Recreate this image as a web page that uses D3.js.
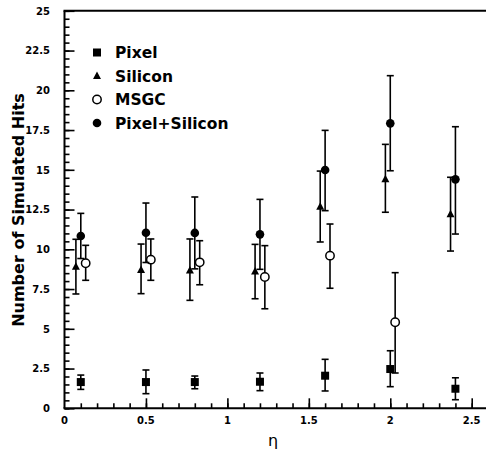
<!DOCTYPE html>
<html>
<head>
<meta charset="utf-8">
<script src="https://cdn.jsdelivr.net/npm/d3@7"></script>
<style>
  html, body { margin: 0; padding: 0; background: #fff; }
  svg { display: block; }
</style>
</head>
<body>
<svg id="chart" width="486" height="452"></svg>
<script>
// ---- data ----
const etaPixel   = [0.1, 0.5, 0.8, 1.2, 1.6, 2.0, 2.4];
const pixelVal   = [1.65, 1.65, 1.65, 1.67, 2.05, 2.47, 1.23];
const pixelLo    = [1.19, 0.92, 1.23, 1.11, 1.09, 1.36, 0.54];
const pixelHi    = [2.09, 2.41, 2.03, 2.22, 3.08, 3.62, 1.92];

const etaSilicon = [0.07, 0.47, 0.77, 1.17, 1.57, 1.97, 2.37];
const siliconVal = [8.9, 8.7, 8.66, 8.6, 12.68, 14.4, 12.2];
const siliconLo  = [7.19, 7.21, 6.79, 6.89, 10.46, 12.33, 9.89];
const siliconHi  = [10.63, 10.33, 10.65, 10.31, 14.92, 16.6, 14.53];

const etaMSGC    = [0.13, 0.53, 0.83, 1.23, 1.63, 2.03];
const msgcVal    = [9.12, 9.35, 9.18, 8.26, 9.6, 5.41];
const msgcLo     = [8.05, 8.05, 7.77, 6.26, 7.55, 2.22];
const msgcHi     = [10.25, 10.65, 10.54, 10.23, 11.59, 8.53];

const etaPS      = [0.1, 0.5, 0.8, 1.2, 1.6, 2.0, 2.4];
const psVal      = [10.84, 11.04, 11.03, 10.94, 14.99, 17.92, 14.4];
const psLo       = [9.42, 9.17, 8.77, 8.74, 12.43, 14.94, 10.96];
const psHi       = [12.26, 12.91, 13.29, 13.14, 17.48, 20.92, 17.71];

const legendLabels = ["Pixel", "Silicon", "MSGC", "Pixel+Silicon"];
const yTickValues = [0, 2.5, 5, 7.5, 10, 12.5, 15, 17.5, 20, 22.5, 25];
const xTickValues = [0, 0.5, 1, 1.5, 2, 2.5];
const xLabel = "η";
const yLabel = "Number of Simulated Hits";

// ---- layout ----
const svg = d3.select("#chart");
const x = d3.scaleLinear().domain([0, 2.6]).range([64.5, 488]);
const y = d3.scaleLinear().domain([0, 25]).range([408.3, 10.8]);
const boldFont = "'DejaVu Sans', Arial, sans-serif";

// minor ticks
const yMinor = d3.range(0, 25.001, 0.5);
const xMinor = d3.range(0, 2.601, 0.1);

const g = svg.append("g");

// Y axis (ticks inward)
const yAxis = d3.axisRight(y).tickValues(yMinor).tickSize(5).tickFormat("");
g.append("g").attr("transform", `translate(${x(0)},0)`).call(yAxis)
  .call(s => s.select(".domain").remove())
  .selectAll("line").attr("stroke", "#000").attr("stroke-width", 1.6);
const yAxisMaj = d3.axisRight(y).tickValues(yTickValues).tickSize(10).tickFormat("");
g.append("g").attr("transform", `translate(${x(0)},0)`).call(yAxisMaj)
  .call(s => s.select(".domain").remove())
  .selectAll("line").attr("stroke", "#000").attr("stroke-width", 1.6);

// X axis (ticks inward)
const xAxis = d3.axisTop(x).tickValues(xMinor.filter(v => v > 0.001)).tickSize(5).tickFormat("");
g.append("g").attr("transform", `translate(0,${y(0)})`).call(xAxis)
  .call(s => s.select(".domain").remove())
  .selectAll("line").attr("stroke", "#000").attr("stroke-width", 1.6);
const xAxisMaj = d3.axisTop(x).tickValues(xTickValues.filter(v => v > 0)).tickSize(10).tickFormat("");
g.append("g").attr("transform", `translate(0,${y(0)})`).call(xAxisMaj)
  .call(s => s.select(".domain").remove())
  .selectAll("line").attr("stroke", "#000").attr("stroke-width", 1.6);

// axis lines / frame
g.append("line").attr("x1", x(0)).attr("x2", x(0)).attr("y1", y(25)).attr("y2", y(0))
  .attr("stroke", "#000").attr("stroke-width", 2);
g.append("line").attr("x1", x(0) - 1).attr("x2", x(2.6)).attr("y1", y(0)).attr("y2", y(0))
  .attr("stroke", "#000").attr("stroke-width", 2);
g.append("line").attr("x1", x(0) - 1).attr("x2", x(2.6)).attr("y1", y(25)).attr("y2", y(25))
  .attr("stroke", "#000").attr("stroke-width", 2);

// tick labels
g.selectAll(".ylab").data(yTickValues).enter().append("text")
  .attr("x", 50).attr("y", d => y(d) + 3.8)
  .attr("text-anchor", "end")
  .attr("font-family", boldFont).attr("font-weight", "bold").attr("font-size", 10)
  .text(d => d);
g.selectAll(".xlab").data(xTickValues).enter().append("text")
  .attr("x", d => x(d)).attr("y", 424)
  .attr("text-anchor", "middle")
  .attr("font-family", boldFont).attr("font-weight", "bold").attr("font-size", 10)
  .text(d => d);

// axis titles
svg.append("text")
  .attr("transform", `translate(24,210) rotate(-90)`)
  .attr("text-anchor", "middle")
  .attr("font-family", boldFont).attr("font-weight", "bold").attr("font-size", 16)
  .text(yLabel);
svg.append("text")
  .attr("x", 273).attr("y", 446)
  .attr("text-anchor", "middle")
  .attr("font-family", "'DejaVu Sans', Arial, sans-serif").attr("font-size", 16)
  .text(xLabel);

// ---- series ----
function zip(etas, vals, lo, hi) {
  return etas.map((e, i) => ({ e, v: vals[i], lo: lo[i], hi: hi[i] }));
}
const series = [
  { name: legendLabels[0], data: zip(etaPixel, pixelVal, pixelLo, pixelHi), shape: "square" },
  { name: legendLabels[1], data: zip(etaSilicon, siliconVal, siliconLo, siliconHi), shape: "triangle" },
  { name: legendLabels[2], data: zip(etaMSGC, msgcVal, msgcLo, msgcHi), shape: "open" },
  { name: legendLabels[3], data: zip(etaPS, psVal, psLo, psHi), shape: "circle" }
];

const capW = 3.5;
function drawMarker(sel, shape) {
  if (shape === "square") {
    sel.append("rect").attr("x", -4).attr("y", -4).attr("width", 8).attr("height", 8).attr("fill", "#000");
  } else if (shape === "triangle") {
    sel.append("path").attr("d", "M0,-4.5L4,3L-4,3Z").attr("fill", "#000");
  } else if (shape === "open") {
    sel.append("circle").attr("r", 4.2).attr("fill", "#fff").attr("stroke", "#000").attr("stroke-width", 1.5);
  } else {
    sel.append("circle").attr("r", 4.3).attr("fill", "#000");
  }
}

series.forEach(s => {
  const sg = svg.append("g");
  const eb = sg.selectAll(".eb").data(s.data).enter().append("g");
  eb.append("line").attr("x1", d => x(d.e)).attr("x2", d => x(d.e))
    .attr("y1", d => y(d.lo)).attr("y2", d => y(d.hi))
    .attr("stroke", "#000").attr("stroke-width", 1.6);
  eb.append("line").attr("x1", d => x(d.e) - capW).attr("x2", d => x(d.e) + capW)
    .attr("y1", d => y(d.hi)).attr("y2", d => y(d.hi))
    .attr("stroke", "#000").attr("stroke-width", 1.6);
  eb.append("line").attr("x1", d => x(d.e) - capW).attr("x2", d => x(d.e) + capW)
    .attr("y1", d => y(d.lo)).attr("y2", d => y(d.lo))
    .attr("stroke", "#000").attr("stroke-width", 1.6);
  sg.selectAll(".mk").data(s.data).enter().append("g")
    .attr("transform", d => `translate(${x(d.e)},${y(d.v)})`)
    .each(function() { drawMarker(d3.select(this), s.shape); });
});

// ---- legend ----
const legendY = [52.5, 76, 99.5, 123];
series.forEach((s, i) => {
  const lg = svg.append("g").attr("transform", `translate(97,${legendY[i]})`);
  drawMarker(lg, s.shape);
  lg.append("text").attr("x", 18).attr("y", 5.8)
    .attr("font-family", boldFont).attr("font-weight", "bold").attr("font-size", 15.5)
    .text(s.name);
});
</script>
</body>
</html>
